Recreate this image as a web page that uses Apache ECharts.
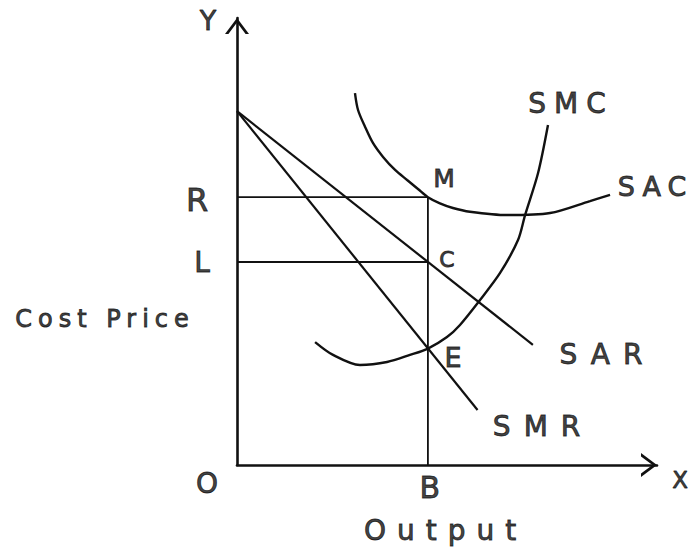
<!DOCTYPE html>
<html>
<head>
<meta charset="utf-8">
<script src="https://cdn.jsdelivr.net/npm/echarts@6/dist/echarts.min.js"></script>
<style>
html,body{margin:0;padding:0;background:#fff;}
#chart{width:692px;height:553px;}
</style>
</head>
<body>
<div id="chart"></div>
<script>
// ---- data (economic units) ----
const xAxisMax = 22;
const yAxisMax = 24;
const outputB = 10;      // equilibrium output OB
const priceR = 14.38;    // OR = BM (on SAC)
const levelL = 10.9;     // OL = BC (on SAR)
const levelE = 6.25;     // BE: SMR = SMC
const sarX = [0, 15.5];
const sarY = [19, 6.45];
const smrX = [0, 12.6];
const smrY = [19, 2.95];
const sacX = [6.18, 6.34, 6.71, 7.12, 7.65, 8.28, 8.91, 9.48, 10.0, 10.63, 11.31, 12.2, 14.14, 16.4, 18.49, 19.54];
const sacY = [19.97, 19.06, 18.15, 17.29, 16.54, 15.84, 15.30, 14.82, 14.38, 14.05, 13.80, 13.60, 13.42, 13.53, 14.17, 14.5];
const smcX = [4.09, 5.03, 6.44, 7.86, 9.06, 10.0, 11.0, 11.68, 12.73, 13.78, 14.72, 15.09, 15.77, 16.29];
const smcY = [6.60, 5.91, 5.37, 5.53, 5.91, 6.25, 6.87, 7.52, 8.86, 10.31, 12.08, 13.42, 15.68, 18.26];

// ---- helpers ----
const INK = '#111';
const FONT = 'DejaVu Sans';
function zip(xs, ys) { return xs.map((x, i) => [x, ys[i]]); }
function lineSeries(name, data, opts) {
  return Object.assign({
    name: name, type: 'line', data: data, showSymbol: false, symbol: 'none',
    silent: true, animation: false, clip: false,
    lineStyle: { color: INK, width: 2.2 }
  }, opts || {});
}
const last = (a) => a[a.length - 1];

// label anchors (data points) with pixel offsets / sizes / letter spacing
const labelDefs = [
  { text: 'Y', at: [0, yAxisMax], off: [-29, 2], size: 27, sp: 0 },
  { text: 'X', at: [xAxisMax, 0], off: [23, 15], size: 23, sp: 0 },
  { text: 'O', at: [0, 0], off: [-30, 18], size: 28, sp: 0 },
  { text: 'B', at: [outputB, 0], off: [2, 22], size: 30, sp: 0 },
  { text: 'R', at: [0, priceR], off: [-40, 3], size: 32, sp: 0 },
  { text: 'L', at: [0, levelL], off: [-35, 1], size: 28, sp: 0 },
  { text: 'M', at: [outputB, priceR], off: [16, -19], size: 25, sp: 0 },
  { text: 'C', at: [outputB, levelL], off: [19, -2], size: 22, sp: 0 },
  { text: 'E', at: [outputB, levelE], off: [25, 9], size: 27, sp: 0 },
  { text: 'SMC', at: [last(smcX), last(smcY)], off: [19, -21], size: 28, sp: 8 },
  { text: 'SAC', at: [last(sacX), last(sacY)], off: [42, -8], size: 27, sp: 7 },
  { text: 'SAR', at: [last(sarX), last(sarY)], off: [68, 10], size: 28, sp: 13 },
  { text: 'SMR', at: [last(smrX), last(smrY)], off: [59, 16], size: 28, sp: 13 },
  { text: 'Output', at: [xAxisMax / 2, 0], off: [-7, 65], size: 28, sp: 11 },
  { text: 'Cost Price', at: [0, 8], off: [-135, 3], size: 24, sp: 6 }
];

const labelSeries = {
  type: 'scatter', silent: true, animation: false, symbolSize: 0,
  itemStyle: { color: 'transparent' },
  data: labelDefs.map(d => ({
    value: d.at,
    label: {
      show: true, position: 'inside', formatter: d.text,
      offset: [d.off[0] + d.sp / 2, d.off[1]],
      color: INK, fontFamily: FONT, fontSize: d.size, fontWeight: 'normal',
      textBorderColor: INK, textBorderWidth: 0.9,
      align: 'center', verticalAlign: 'middle'
    }
  }))
};

const arrowPath = 'path://M0,16L12,0L24,16L20.6,16L12,4.5L3.4,16Z';
function axis(max) {
  return {
    type: 'value', min: 0, max: max,
    axisLine: { show: true, onZero: false, symbol: ['none', arrowPath], symbolSize: [24, 16], symbolOffset: [0, -8],
                lineStyle: { color: INK, width: 2.6 } },
    axisTick: { show: false }, axisLabel: { show: false }, splitLine: { show: false }
  };
}

const chart = echarts.init(document.getElementById('chart'), null, { renderer: 'svg', width: 692, height: 553 });
chart.setOption({
  animation: false,
  backgroundColor: '#fff',
  grid: { left: 237, right: 35, top: 18, bottom: 88, outerBoundsMode: 'none', containLabel: false },
  xAxis: axis(xAxisMax),
  yAxis: axis(yAxisMax),
  series: [
    lineSeries('R', [[0, priceR], [outputB, priceR]], { lineStyle: { color: INK, width: 1.8 } }),
    lineSeries('L', [[0, levelL], [outputB, levelL]], { lineStyle: { color: INK, width: 1.8 } }),
    lineSeries('B', [[outputB, 0], [outputB, priceR]], { lineStyle: { color: INK, width: 1.8 } }),
    lineSeries('SAR', zip(sarX, sarY)),
    lineSeries('SMR', zip(smrX, smrY)),
    lineSeries('SAC', zip(sacX, sacY), { smooth: 0.3, lineStyle: { color: INK, width: 2.4 } }),
    lineSeries('SMC', zip(smcX, smcY), { smooth: 0.3, lineStyle: { color: INK, width: 2.4 } }),
    labelSeries
  ]
});

// hand-lettering look: widen letter spacing of the multi-letter labels
const spacing = {};
labelDefs.forEach(d => { if (d.sp) spacing[d.text] = d.sp; });
function applySpacing() {
  document.querySelectorAll('#chart text').forEach(t => {
    const s = spacing[t.textContent];
    if (s) t.style.letterSpacing = s + 'px';
  });
}
applySpacing();
chart.on('finished', applySpacing);
setTimeout(applySpacing, 0);
</script>
</body>
</html>
